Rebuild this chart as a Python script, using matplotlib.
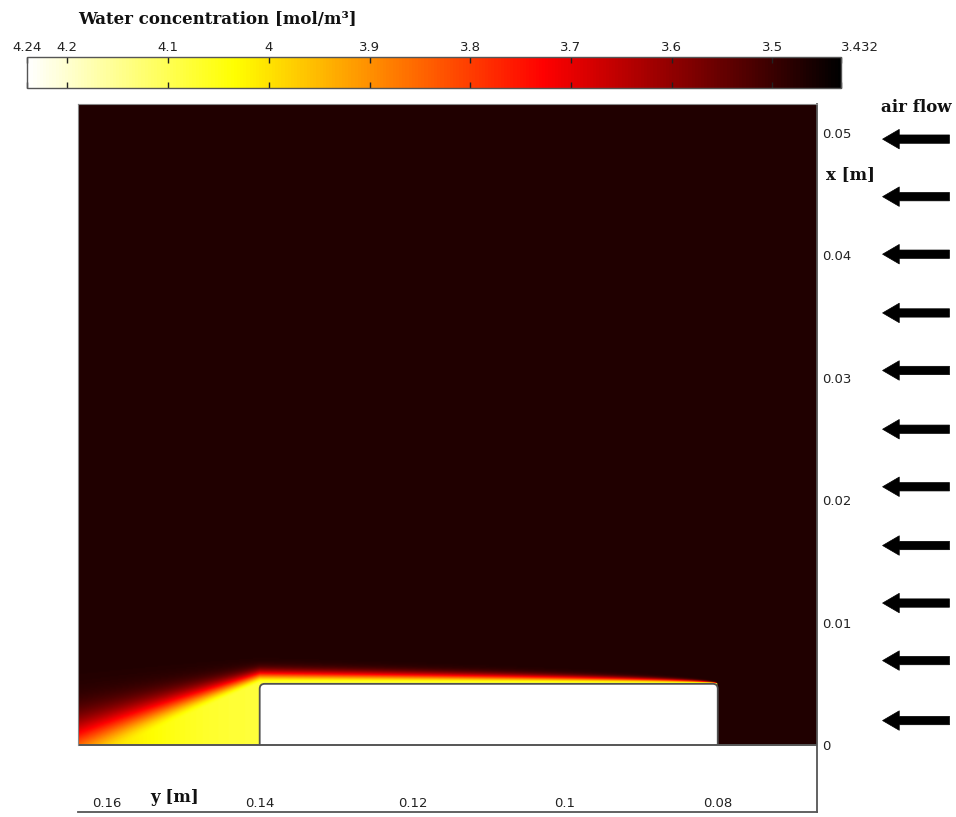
import numpy as np
import matplotlib
matplotlib.use("Agg")
import matplotlib.pyplot as plt
from matplotlib.colors import LinearSegmentedColormap
from matplotlib.patches import FancyBboxPatch

# colour scale [mol/m^3]
C_MIN, C_MAX = 3.432, 4.24
CBAR_TICKS = [4.24, 4.2, 4.1, 4.0, 3.9, 3.8, 3.7, 3.6, 3.5, 3.432]
CBAR_LABELS = ["4.24", "4.2", "4.1", "4", "3.9", "3.8", "3.7", "3.6", "3.5", "3.432"]

# domain [m]: y runs horizontally (reversed), x vertically
Y_LIM = (0.1638, 0.0670)
X_LIM = (-0.00547, 0.05237)
Y_TICKS = [0.16, 0.14, 0.12, 0.1, 0.08]
Y_LABELS = ["0.16", "0.14", "0.12", "0.1", "0.08"]
X_TICKS = [0, 0.01, 0.02, 0.03, 0.04, 0.05]
X_LABELS = ["0", "0.01", "0.02", "0.03", "0.04", "0.05"]

# wet sample on the floor of the channel
BLOCK_Y = (0.08, 0.14)
BLOCK_H = 0.005

# concentration field parameters
C_BULK = 3.47          # incoming air
C_SURF = 4.08          # saturated surface
BL_COEF = 0.00367      # boundary layer: delta = BL_COEF * sqrt(s)
WAKE_SLOPE = 0.28      # downward drift of the wake behind the sample
WAKE_SPREAD = 0.10     # widening of the wake
WAKE_DECAY = 0.05      # decay length of the wake amplitude

# air-flow arrows (heights in m)
ARROW_X = [0.0495, 0.0448, 0.0401, 0.0353, 0.0306, 0.0258,
           0.0211, 0.0163, 0.0116, 0.0069, 0.0020]

W, H = 956, 817
cmap = LinearSegmentedColormap.from_list(
    "hot0", [(0.0, "black"), (0.365, "red"), (0.746, "yellow"), (1.0, "white")])


def concentration_field():
    yy = np.linspace(min(Y_LIM), max(Y_LIM), 1000)
    xx = np.linspace(0.0, X_LIM[1], 560)
    Y, X = np.meshgrid(yy, xx)
    s = np.clip(Y - BLOCK_Y[0], 1e-5, BLOCK_Y[1] - BLOCK_Y[0])
    delta = BL_COEF * np.sqrt(s)
    u = np.clip(Y - BLOCK_Y[1], 0.0, None)
    zeta = (X - BLOCK_H + WAKE_SLOPE * u) / (delta + WAKE_SPREAD * u)
    amp = np.exp(-(u / WAKE_DECAY) ** 2)
    C = C_BULK + (C_SURF - C_BULK) * amp * np.exp(-np.clip(zeta, 0, None) ** 2)
    C[Y < BLOCK_Y[0]] = C_BULK
    return yy, xx, C


fig = plt.figure(figsize=(W / 100, H / 100), dpi=100)

ax = fig.add_axes([78 / W, 1 - 812 / H, 739 / W, 708 / H])
yy, xx, C = concentration_field()
im = ax.imshow(C, extent=(yy[0], yy[-1], xx[0], xx[-1]), origin="lower",
               aspect="auto", cmap=cmap, vmin=C_MIN, vmax=C_MAX,
               interpolation="bilinear", zorder=0)

block = FancyBboxPatch((BLOCK_Y[0], -0.002), BLOCK_Y[1] - BLOCK_Y[0], BLOCK_H + 0.002,
                       boxstyle="round,pad=0,rounding_size=0.00065",
                       mutation_aspect=0.63, fc="white", ec="#505050", lw=1.3, zorder=0.5)
ax.add_patch(block)
ax.axhspan(X_LIM[0], 0, color="white", zorder=1)
ax.axhline(0, color="#555555", lw=1.4, zorder=2)

ax.set_xlim(*Y_LIM)
ax.set_ylim(*X_LIM)
ax.set_xticks(Y_TICKS, labels=Y_LABELS)
ax.set_yticks(X_TICKS, labels=X_LABELS)
ax.yaxis.tick_right()
ax.tick_params(axis="y", length=0, pad=4, labelsize=9.5, labelcolor="#222222")
ax.tick_params(axis="x", length=0, pad=-11, labelsize=9.5, labelcolor="#222222")
for side in ["top", "left"]:
    ax.spines[side].set_color("#888888")
    ax.spines[side].set_linewidth(0.8)
for side in ["right", "bottom"]:
    ax.spines[side].set_color("#555555")
    ax.spines[side].set_linewidth(1.3)
ax.spines["left"].set_bounds(0, X_LIM[1])

# air flow arrows to the right of the domain
for xa in ARROW_X:
    ax.annotate("", xy=(1.085, xa), xytext=(1.183, xa),
                xycoords=("axes fraction", "data"), textcoords=("axes fraction", "data"),
                arrowprops=dict(arrowstyle="simple,head_length=0.6,head_width=0.7,tail_width=0.3",
                                mutation_scale=20, fc="black", ec="black", lw=0.5),
                annotation_clip=False)

# colour bar
cax = fig.add_axes([27 / W, 1 - 88 / H, 814 / W, 31 / H])
cb = fig.colorbar(im, cax=cax, orientation="horizontal")
cax.invert_xaxis()
cb.set_ticks(CBAR_TICKS, labels=CBAR_LABELS)
cax.tick_params(axis="x", direction="in", top=True, bottom=True, labeltop=True,
                labelbottom=False, length=4, width=1, color="#222222", labelsize=9.5,
                pad=2, labelcolor="#222222")
cax.get_xticklabels()[-1].set_horizontalalignment("left")
cb.outline.set_edgecolor("#555555")
cb.outline.set_linewidth(1.0)

serif = dict(family="DejaVu Serif", weight="bold", color="#111111")
fig.text(78 / W, 1 - 20 / H, "Water concentration [mol/m³]", ha="left", va="center",
         fontsize=12, **serif)
fig.text(175 / W, 1 - 797 / H, "y [m]", ha="center", va="center", fontsize=12, **serif)
fig.text(851 / W, 1 - 175 / H, "x [m]", ha="center", va="center", fontsize=12, **serif)
fig.text(916 / W, 1 - 108 / H, "air flow", ha="center", va="center", fontsize=12, **serif)

fig.savefig("out.png", dpi=100)
